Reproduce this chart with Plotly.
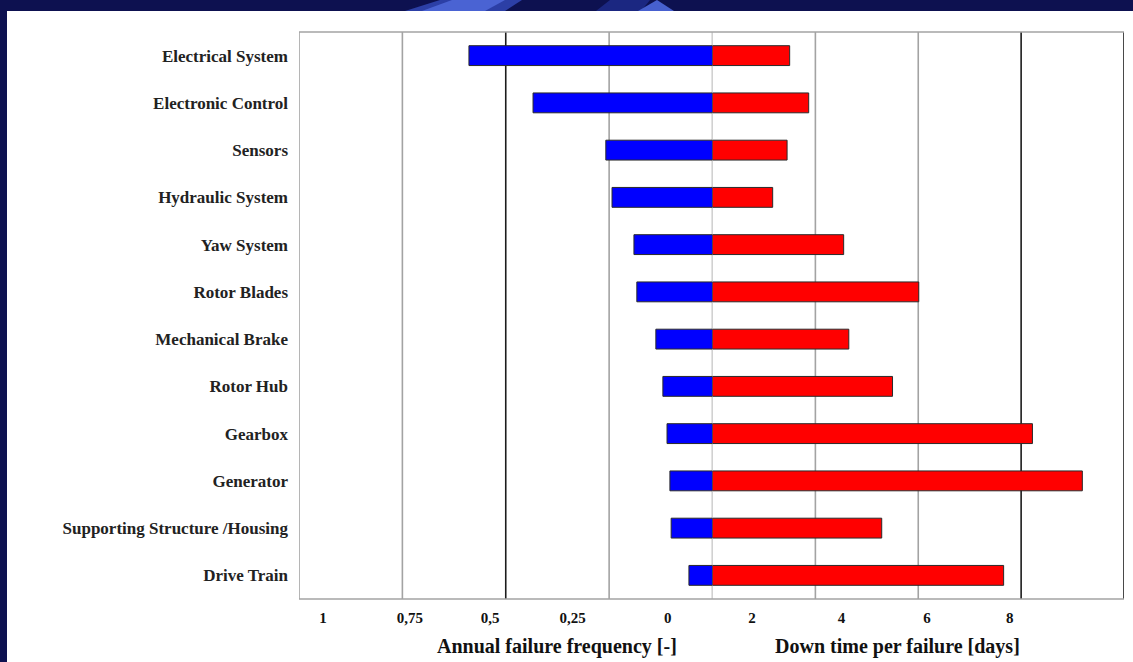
import plotly.graph_objects as go

# ---------------- data ----------------
categories = [
    "Electrical System", "Electronic Control", "Sensors", "Hydraulic System",
    "Yaw System", "Rotor Blades", "Mechanical Brake", "Rotor Hub", "Gearbox",
    "Generator", "Supporting Structure /Housing", "Drive Train",
]
failure_freq = [0.589, 0.434, 0.258, 0.243, 0.190, 0.183, 0.137, 0.120, 0.110, 0.103, 0.100, 0.057]
downtime_days = [1.50, 1.87, 1.45, 1.17, 2.55, 4.01, 2.65, 3.50, 6.22, 7.19, 3.29, 5.66]
freq_tick_text = ["1", "0,75", "0,5", "0,25", "0"]
days_tick_text = ["2", "4", "6", "8"]
freq_title = "Annual failure frequency [-]"
days_title = "Down time per failure [days]"

# ---------------- layout constants ----------------
W, H = 1133, 662
ML, MR, MT, MB = 299, 9, 32, 63
PW, PH = W - ML - MR, H - MT - MB
SPLIT = (712.5 - ML) / PW
freq_tick_pos = [0.942, 0.732, 0.538, 0.338, 0.108]
days_tick_pos = [0.767, 2.51, 4.17, 5.78]

SERIF = "Liberation Serif"
NAVY = "#0d1150"
GRAY = "#a3a3a3"
DARK = "#1c1c1c"


def px_x(px):
    return (px - ML) / PW


def px_y(py):
    return (H - MB - py) / PH


fig = go.Figure()
fig.add_trace(go.Bar(
    y=categories, x=failure_freq, orientation="h", xaxis="x", yaxis="y",
    width=0.42, marker=dict(color="#0000ff", line=dict(color="#2a2a2a", width=1)),
    showlegend=False, hoverinfo="x+y",
))
fig.add_trace(go.Bar(
    y=categories, x=downtime_days, orientation="h", xaxis="x2", yaxis="y",
    width=0.42, marker=dict(color="#ff0000", line=dict(color="#2a2a2a", width=1)),
    showlegend=False, hoverinfo="x+y",
))

shapes = []
# white panel over navy background
shapes.append(dict(type="rect", xref="paper", yref="paper",
                   x0=px_x(7), x1=px_x(W + 10), y0=px_y(H + 10), y1=px_y(11),
                   fillcolor="white", line=dict(width=0), layer="below"))


def poly(pts, color):
    d = "M " + " L ".join(f"{px_x(a):.5f},{px_y(b):.5f}" for a, b in pts) + " Z"
    return dict(type="path", xref="paper", yref="paper", path=d,
                fillcolor=color, line=dict(width=0), layer="below")


# decorative streaks in the top band
shapes.append(poly([(405, 11), (505, 11), (522, 0), (440, 0)], "#2c3fa6"))
shapes.append(poly([(422, 11), (485, 11), (505, 0), (452, 0)], "#4a63d3"))
shapes.append(poly([(596, 11), (641, 11), (650, 0), (610, 0)], "#1b2781"))
shapes.append(poly([(638, 11), (674, 11), (657, 0)], "#4760cf"))

# grid / frame lines (left half: frequency axis)
for v, c in [(1.0, GRAY), (0.75, GRAY), (0.5, DARK), (0.25, GRAY), (0.0, GRAY)]:
    shapes.append(dict(type="line", xref="x", yref="paper", x0=v, x1=v, y0=0, y1=1,
                       line=dict(color=c, width=1.6), layer="below"))
# right half: downtime axis
for v, c in [(2, GRAY), (4, GRAY), (6, DARK), (8, DARK)]:
    shapes.append(dict(type="line", xref="x2", yref="paper", x0=v, x1=v, y0=0, y1=1,
                       line=dict(color=c, width=1.6), layer="below"))
for yv in (0, 1):
    shapes.append(dict(type="line", xref="paper", yref="paper", x0=0, x1=1, y0=yv, y1=yv,
                       line=dict(color=GRAY, width=1.6), layer="below"))

tickfont = dict(family=SERIF, size=15, color="#111111", weight="bold")
titlefont = dict(family=SERIF, size=20, color="#111111", weight="bold")

fig.update_layout(
    width=W, height=H,
    margin=dict(l=ML, r=MR, t=MT, b=MB, pad=0),
    paper_bgcolor=NAVY, plot_bgcolor="white",
    barmode="overlay",
    shapes=shapes,
    xaxis=dict(domain=[0, SPLIT], range=[1, 0], anchor="y",
               tickmode="array", tickvals=freq_tick_pos, ticktext=freq_tick_text,
               showgrid=False, zeroline=False, showline=False, ticks="",
               ticklabelstandoff=8, tickfont=tickfont, fixedrange=True),
    xaxis2=dict(domain=[SPLIT, 1], range=[0, 8], anchor="y",
                tickmode="array", tickvals=days_tick_pos, ticktext=days_tick_text,
                showgrid=False, zeroline=False, showline=False, ticks="",
                ticklabelstandoff=8, tickfont=tickfont, fixedrange=True),
    yaxis=dict(categoryorder="array", categoryarray=categories, autorange="reversed",
               showgrid=False, zeroline=False, showline=False, ticks="",
               ticklabelstandoff=10,
               tickfont=dict(family=SERIF, size=17, color="#222222", weight="bold"),
               fixedrange=True),
    annotations=[
        dict(text=freq_title, xref="paper", yref="paper", x=px_x(557), y=px_y(660),
             xanchor="center", yanchor="bottom", showarrow=False, font=titlefont),
        dict(text=days_title, xref="paper", yref="paper", x=px_x(897), y=px_y(660),
             xanchor="center", yanchor="bottom", showarrow=False, font=titlefont),
    ],
)

fig.write_html(
    "out.html",
    config={"displayModeBar": False},
    post_script="document.body.style.margin='0';document.body.style.overflow='hidden';",
)
